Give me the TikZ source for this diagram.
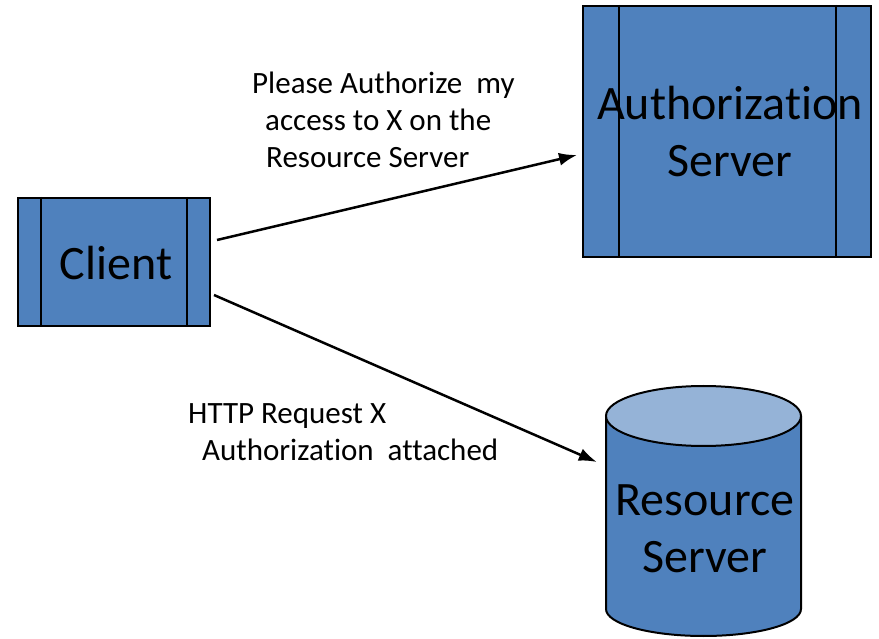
\documentclass[tikz,border=0pt]{standalone}
\usepackage{fontspec}
\setmainfont[Ligatures=NoCommon]{Carlito}
\usetikzlibrary{arrows.meta,calc}
\definecolor{boxblue}{HTML}{4F81BD}
\definecolor{topblue}{HTML}{95B3D7}
\tikzset{
  server/.style={draw=black, line width=2pt, fill=boxblue, inner sep=0pt},
  bigtext/.style={font=\fontsize{48pt}{57pt}\selectfont, align=center},
  lbl/.style={font=\fontsize{31pt}{37pt}\selectfont, inner sep=0pt},
  msg/.style={line width=2.5pt, -{Latex[length=18pt,width=13pt]}},
  sideline/.style={line width=2pt}
}
\begin{document}
\begin{tikzpicture}[x=1pt,y=1pt]
\useasboundingbox (0,0) rectangle (879,638);
% Client
\node[server, minimum width=192pt, minimum height=128pt] (client) at (114,376) {};
\draw[sideline] ([xshift=24pt]client.north west) -- ([xshift=24pt]client.south west);
\draw[sideline] ([xshift=-24pt]client.north east) -- ([xshift=-24pt]client.south east);
\node[bigtext, anchor=base] (clienttext) at (116,358) {Client};
% Authorization server
\node[server, minimum width=288pt, minimum height=251pt] (auth) at (727,506.5) {};
\draw[sideline] ([xshift=37pt]auth.north west) -- ([xshift=37pt]auth.south west);
\draw[sideline] ([xshift=-36pt]auth.north east) -- ([xshift=-36pt]auth.south east);
\node[bigtext, anchor=base, inner sep=0pt] (authtext) at (730,461) {Authorization\\Server};
% Resource server (cylinder)
\node[minimum width=195pt, minimum height=250pt, inner sep=0pt] (rs) at (703.5,126) {};
\fill[boxblue] (606,222) -- (606,29) arc[start angle=180,end angle=360,x radius=97.5pt,y radius=27pt] -- (801,222) -- cycle;
\draw[line width=2pt] (606,222) -- (606,29) arc[start angle=180,end angle=360,x radius=97.5pt,y radius=27pt] -- (801,222);
\draw[line width=2pt, fill=topblue] (703.5,222) ellipse[x radius=97.5pt, y radius=30pt];
\node[bigtext, anchor=base, inner sep=0pt] (rstext) at (705,66) {Resource\\Server};
% Connectors
\draw[msg] ($(client.east)+(6,22)$) -- ($(auth.west)+(-5,-23.5)$);
\draw[msg] ($(client.east)+(3,-33)$) -- ($(rs.west)+(-9,50)$);
% Labels
\node[lbl, align=left, anchor=west] (lab1) at (252,518) {Please Authorize~ my\\\hspace*{13pt}access to X on the\\\hspace*{14pt}Resource Server};
\node[lbl, align=left, anchor=west] (lab2) at (188,206) {HTTP Request X\\\hspace*{14pt}Authorization~ attached};
\end{tikzpicture}
\end{document}
